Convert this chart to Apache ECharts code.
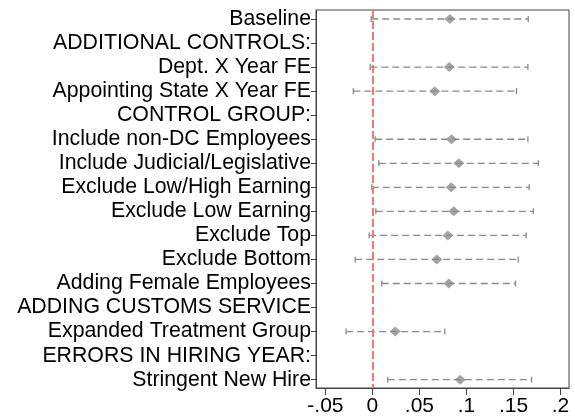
<!DOCTYPE html>
<html>
<head>
<meta charset="utf-8">
<script src="https://cdn.jsdelivr.net/npm/echarts@6/dist/echarts.min.js"></script>
<style>
  html, body { margin: 0; padding: 0; background: #fff; }
  #main { width: 575px; height: 419px; }
</style>
</head>
<body>
<div id="main"></div>
<script>
// rows, top to bottom
var labels = ['Baseline', 'ADDITIONAL CONTROLS:', 'Dept. X Year FE', 'Appointing State X Year FE',
  'CONTROL GROUP:', 'Include non-DC Employees', 'Include Judicial/Legislative',
  'Exclude Low/High Earning', 'Exclude Low Earning', 'Exclude Top', 'Exclude Bottom',
  'Adding Female Employees', 'ADDING CUSTOMS SERVICE', 'Expanded Treatment Group',
  'ERRORS IN HIRING YEAR:', 'Stringent New Hire'];
var coef = [0.0823, null, 0.0817, 0.0663, null, 0.0841, 0.0919, 0.0837, 0.0865, 0.0802, 0.0685, 0.0812, null, 0.0242, null, 0.0933];
var ciLow = [-0.0013, null, -0.0023, -0.0203, null, 0.0029, 0.0067, -0.0007, 0.0036, -0.0035, -0.0183, 0.0099, null, -0.028, null, 0.0163];
var ciHigh = [0.1657, null, 0.1653, 0.1532, null, 0.1653, 0.1763, 0.1667, 0.171, 0.1635, 0.155, 0.1521, null, 0.0769, null, 0.1692];
var xTicks = [-0.05, 0, 0.05, 0.1, 0.15, 0.2];

var rowTicks = labels.map(function (l, i) { return i + 1; });
var barData = [], pointData = [];
for (var i = 0; i < labels.length; i++) {
  if (coef[i] === null) continue;
  barData.push([ciLow[i], ciHigh[i], i + 1]);
  pointData.push([coef[i], i + 1]);
}

var FONT = 'Helvetica, "Liberation Sans", Arial, sans-serif';

var option = {
  animation: false,
  grid: { left: 316, right: 6, top: 10, bottom: 31, show: true, borderColor: '#444', borderWidth: 1 },
  xAxis: {
    type: 'value', min: -0.06, max: 0.209,
    splitLine: { show: false },
    axisLine: { show: true, onZero: false, lineStyle: { color: '#444', width: 1 } },
    axisTick: { show: true, length: 7, customValues: xTicks, lineStyle: { color: '#444' } },
    axisLabel: {
      customValues: xTicks, margin: 8, color: '#000', fontSize: 21, fontFamily: FONT,
      formatter: function (v) {
        if (Math.abs(v) < 1e-9) return '0';
        return String(+v.toFixed(2)).replace('0.', '.');
      }
    }
  },
  yAxis: {
    type: 'value', inverse: true, min: 0.626, max: 16.345,
    splitLine: { show: false },
    axisLine: { show: true, onZero: false, lineStyle: { color: '#444', width: 1 } },
    axisTick: { show: true, length: 5, customValues: rowTicks, lineStyle: { color: '#444' } },
    axisLabel: {
      customValues: rowTicks, margin: 5, color: '#000', fontSize: 21.3, fontFamily: FONT,
      formatter: function (v) { return labels[Math.round(v) - 1] || ''; }
    }
  },
  series: [
    {
      type: 'custom',
      data: barData,
      encode: { x: [0, 1], y: 2 },
      renderItem: function (params, api) {
        var a = api.coord([api.value(0), api.value(2)]);
        var b = api.coord([api.value(1), api.value(2)]);
        var st = { stroke: '#8a8a8a', lineWidth: 1.3 };
        return {
          type: 'group',
          children: [
            { type: 'line', shape: { x1: a[0], y1: a[1], x2: b[0], y2: b[1] },
              style: { stroke: '#8a8a8a', lineWidth: 1.3, lineDash: [7, 4] } },
            { type: 'line', shape: { x1: a[0], y1: a[1] - 3, x2: a[0], y2: a[1] + 3 }, style: st },
            { type: 'line', shape: { x1: b[0], y1: b[1] - 3, x2: b[0], y2: b[1] + 3 }, style: st }
          ]
        };
      },
      z: 2
    },
    {
      type: 'scatter',
      data: pointData,
      symbol: 'diamond',
      symbolSize: [11, 10],
      itemStyle: { color: '#8c8c8c' },
      z: 3,
      markLine: {
        silent: true, symbol: 'none', label: { show: false },
        lineStyle: { color: '#f07878', type: [8, 3], width: 2 },
        data: [{ xAxis: 0 }]
      }
    }
  ]
};

var myChart = echarts.init(document.getElementById('main'));
myChart.setOption(option);
</script>
</body>
</html>
